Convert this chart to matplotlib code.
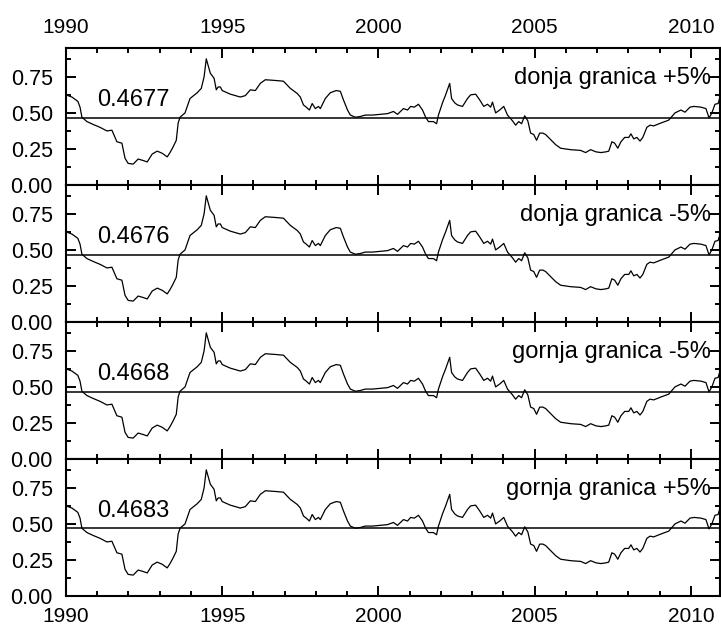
import numpy as np
import matplotlib.pyplot as plt
from matplotlib.ticker import MultipleLocator

plt.rcParams['font.family'] = ['Liberation Sans', 'DejaVu Sans']

# series (decimal year, value); the four panels are almost identical
years = [1990.00, 1990.19, 1990.38, 1990.45, 1990.51, 1990.67, 1990.87, 1991.09, 1991.31, 1991.47,
         1991.63, 1991.79, 1991.89, 1991.99, 1992.15, 1992.31, 1992.47, 1992.60, 1992.76, 1992.92,
         1993.08, 1993.24, 1993.33, 1993.43, 1993.53, 1993.59, 1993.65, 1993.81, 1993.97, 1994.20,
         1994.33, 1994.42, 1994.49, 1994.55, 1994.62, 1994.74, 1994.81, 1994.87, 1994.94, 1995.00,
         1995.26, 1995.58, 1995.74, 1995.90, 1996.06, 1996.22, 1996.38, 1996.70, 1996.96, 1997.18,
         1997.40, 1997.50, 1997.60, 1997.69, 1997.79, 1997.88, 1997.98, 1998.08, 1998.14, 1998.30,
         1998.46, 1998.65, 1998.78, 1998.88, 1999.01, 1999.10, 1999.26, 1999.42, 1999.58, 1999.81,
         2000.06, 2000.29, 2000.48, 2000.61, 2000.80, 2000.93, 2001.03, 2001.15, 2001.28, 2001.41,
         2001.51, 2001.60, 2001.76, 2001.86, 2001.92, 2002.05, 2002.15, 2002.28, 2002.34, 2002.44,
         2002.53, 2002.69, 2002.85, 2002.95, 2003.11, 2003.24, 2003.37, 2003.49, 2003.59, 2003.65,
         2003.75, 2003.88, 2004.01, 2004.13, 2004.29, 2004.39, 2004.49, 2004.58, 2004.68, 2004.78,
         2004.87, 2004.97, 2005.06, 2005.16, 2005.26, 2005.35, 2005.51, 2005.67, 2005.83, 2006.15,
         2006.47, 2006.63, 2006.79, 2006.96, 2007.12, 2007.28, 2007.37, 2007.47, 2007.56, 2007.66,
         2007.76, 2007.88, 2008.01, 2008.08, 2008.17, 2008.27, 2008.37, 2008.46, 2008.59, 2008.69,
         2008.81, 2009.04, 2009.29, 2009.49, 2009.68, 2009.81, 2009.97, 2010.10, 2010.32, 2010.48,
         2010.58, 2010.67, 2010.77, 2010.87, 2010.93]
values = [0.625, 0.61, 0.58, 0.54, 0.47, 0.44, 0.42, 0.40, 0.375, 0.38,
          0.30, 0.29, 0.185, 0.15, 0.145, 0.18, 0.17, 0.16, 0.215, 0.235,
          0.22, 0.195, 0.225, 0.265, 0.31, 0.43, 0.47, 0.50, 0.60, 0.64,
          0.67, 0.75, 0.875, 0.83, 0.775, 0.74, 0.66, 0.68, 0.68, 0.655,
          0.63, 0.61, 0.62, 0.66, 0.655, 0.705, 0.73, 0.725, 0.72, 0.67,
          0.635, 0.61, 0.555, 0.54, 0.52, 0.565, 0.53, 0.545, 0.53, 0.60,
          0.64, 0.655, 0.65, 0.59, 0.52, 0.485, 0.47, 0.475, 0.485, 0.485,
          0.49, 0.495, 0.51, 0.49, 0.53, 0.52, 0.545, 0.54, 0.56, 0.52,
          0.47, 0.44, 0.44, 0.425, 0.485, 0.57, 0.625, 0.705, 0.60, 0.57,
          0.555, 0.545, 0.60, 0.625, 0.63, 0.59, 0.545, 0.56, 0.54, 0.575,
          0.50, 0.52, 0.545, 0.485, 0.445, 0.415, 0.44, 0.425, 0.48, 0.445,
          0.36, 0.35, 0.31, 0.36, 0.36, 0.35, 0.315, 0.28, 0.255, 0.245,
          0.24, 0.225, 0.245, 0.23, 0.225, 0.23, 0.235, 0.30, 0.29, 0.255,
          0.30, 0.33, 0.33, 0.355, 0.32, 0.33, 0.305, 0.33, 0.40, 0.415,
          0.41, 0.43, 0.45, 0.50, 0.52, 0.505, 0.54, 0.545, 0.54, 0.53,
          0.465, 0.50, 0.56, 0.565, 0.61]

labels = ['donja granica +5%', 'donja granica -5%', 'gornja granica -5%', 'gornja granica +5%']
means = [0.4677, 0.4676, 0.4668, 0.4683]

fig, axes = plt.subplots(4, 1, sharex=True, figsize=(7.21, 6.26), dpi=100)
fig.subplots_adjust(left=0.0915, right=0.9986, top=0.9233, bottom=0.0479, hspace=0)

for i, ax in enumerate(axes):
    ax.plot(years, values, color='black', lw=0.9)
    ax.axhline(means[i], color='black', lw=1.1)
    ax.text(1991.0, 0.59, '%.4f' % means[i], fontsize=17, va='center', ha='left')
    ax.text(2010.65, 0.74, labels[i], fontsize=17, va='center', ha='right')

    ax.set_xlim(1990, 2010.93)
    ax.set_ylim(0, 0.95)
    ax.xaxis.set_major_locator(MultipleLocator(5))
    ax.xaxis.set_minor_locator(MultipleLocator(1))
    ax.yaxis.set_major_locator(MultipleLocator(0.25))
    ax.yaxis.set_minor_locator(MultipleLocator(0.125))
    ax.yaxis.set_major_formatter(plt.FormatStrFormatter('%.2f'))
    ax.tick_params(which='both', direction='in', top=True, right=True, width=1.4,
                   labelbottom=(i == 3), labeltop=(i == 0))
    ax.tick_params(axis='x', which='major', labelsize=15, length=7.2, pad=8)
    ax.tick_params(axis='y', which='major', labelsize=15.5, length=7.2, pad=9.5)
    ax.tick_params(which='minor', length=3.6)
    for s in ax.spines.values():
        s.set_linewidth(1.5)

plt.savefig('out.png', dpi=100)
